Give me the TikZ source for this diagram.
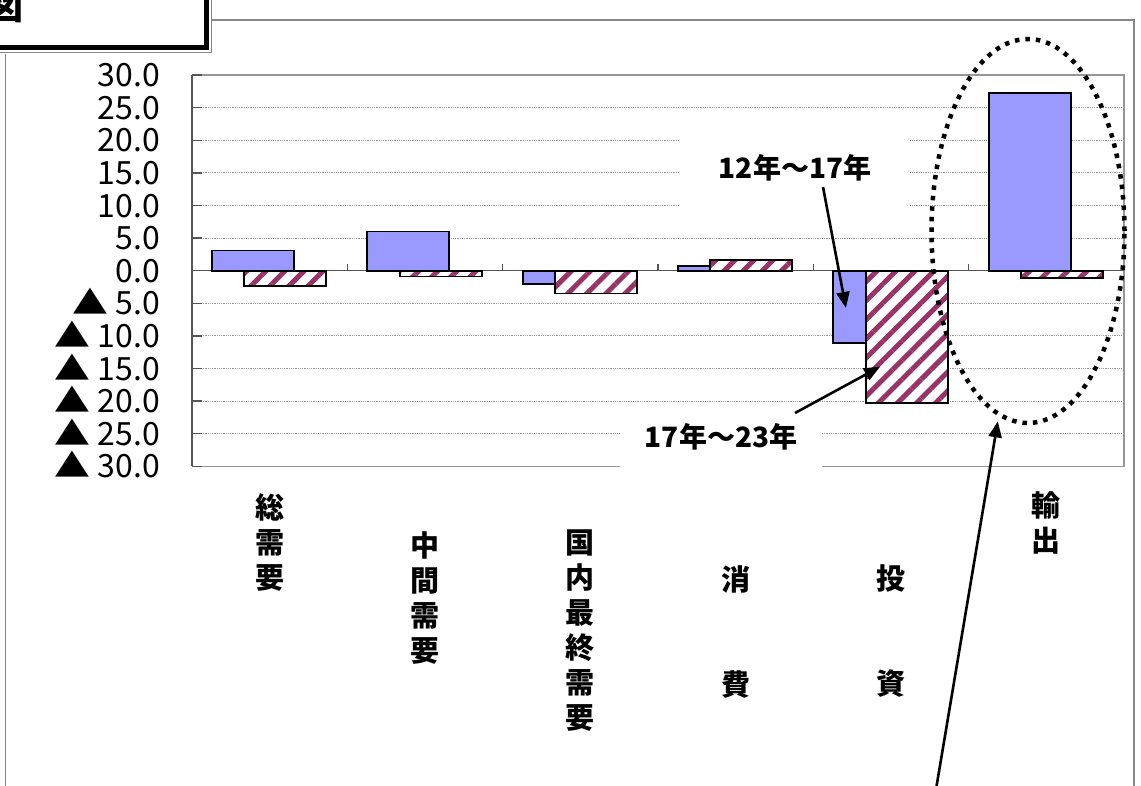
\documentclass[tikz,border=0pt]{standalone}
\usepackage{fontspec}
\usepackage{tikz}
\usetikzlibrary{positioning,calc,shapes.geometric,arrows.meta,patterns.meta}
\newfontfamily\jp{Noto Sans CJK JP}

\definecolor{barblue}{RGB}{153,153,255}
\definecolor{barplum}{RGB}{153,51,102}
\definecolor{gridgray}{RGB}{150,150,150}
\definecolor{axisgray}{RGB}{85,85,85}
\definecolor{framegray}{RGB}{135,135,135}

\newcommand{\negmark}{\scalebox{1.12}[1.0]{▲}}

\tikzset{
  bluebar/.style={draw=black, line width=1.8pt, fill=barblue},
  hatchbar/.style={draw=black, line width=1.8pt, preaction={fill=white},
    pattern={Lines[angle=45,distance=13.5pt,line width=5pt]}, pattern color=barplum},
  gridline/.style={gridgray, line width=0.8pt, densely dotted},
  ylab/.style={font=\jp\fontsize{32}{32}\selectfont, anchor=base east, inner sep=0pt, yshift=-11.7pt},
  catlab/.style={font=\jp\bfseries\fontsize{29}{35}\selectfont, align=center, anchor=north, inner sep=0pt},
  yearlab/.style={font=\jp\bfseries\fontsize{28}{28}\selectfont, inner sep=0pt, fill=white},
  callout/.style={line width=2.6pt, -{Triangle[length=16pt,width=13pt]}},
  focusring/.style={ellipse, draw, line width=4.5pt, dash pattern=on 4.5pt off 6pt,
    minimum width=193pt, minimum height=384pt, inner sep=0pt},
}

\begin{document}
\begin{tikzpicture}[x=1pt,y=1pt]
    \useasboundingbox (0,0) rectangle (1141,785);
    \fill[white] (0,0) rectangle (1141,785);
    \clip (0,0) rectangle (1141,785);

    % frame and title box
    \draw[framegray, line width=1.5pt] (5.7,731) -- (5.7,-5);
    \draw[framegray, line width=1.5pt] (212,765) -- (1134,765) -- (1134,-5);
    \draw[line width=5.5pt] (-20,737.5) -- (206.7,737.5) -- (206.7,800);
    \draw[framegray, line width=1pt] (-20,732.3) -- (211.5,732.3) -- (211.5,800);
    \node[font=\jp\bfseries\fontsize{36}{36}\selectfont, anchor=south east, inner sep=0pt] (title) at (24,762) {図};

    % chart
    \begin{scope}[shift={(192,514.3)}, x=155.33pt, y=6.52pt]
        \foreach \v in {-25,-20,...,25}
            \draw[gridline] (0,\v) -- (6,\v);
        \draw[gridgray, line width=1.5pt] (0,30) -- (6,30) -- (6,-30) -- (0,-30);
        \draw[axisgray, line width=1.5pt] (0,-30) -- (0,30);
        \foreach \v in {-30,-25,...,30}
            \draw[axisgray, line width=1.5pt] (0,\v) -- ++(10pt,0);
        \foreach \v/\t in {30/30.0,25/25.0,20/20.0,15/15.0,10/10.0,5/5.0,0/0.0}
            \node[ylab] (val\v) at (-32pt,\v) {\t};
        \foreach \v/\t in {-5/5.0,-10/10.0,-15/15.0,-20/20.0,-25/25.0,-30/30.0}
            \node[ylab] (val\v) at (-32pt,\v) {\negmark\ \t};
        \draw[axisgray, line width=1.5pt] (0,0) -- (6,0);
        \foreach \i in {1,...,5}
            \draw[axisgray, line width=1.2pt] (\i,0) -- ++(0,7pt);
        % 12-17 / 17-23
        \foreach \i/\a/\b in {0/3.1/-2.3, 1/6.0/-0.9, 2/-2.0/-3.5, 3/0.7/1.6, 4/-11.1/-20.3, 5/27.2/-1.1} {
            \draw[bluebar] (\i+0.129,0) rectangle (\i+0.657,\a);
            \draw[hatchbar] (\i+0.337,0) rectangle (\i+0.865,\b);
        }
        \coordinate (tipearly) at (4.21,-5.72);
        \coordinate (tiplate) at (4.43,-14.72);
    \end{scope}

    % category labels
    \node[catlab] (total) at (269.7,292) {総\\需\\要};
    \node[catlab] (inter) at (425,253.3) {中\\間\\需\\要};
    \node[catlab] (domestic) at (580.3,255) {国\\内\\最\\終\\需\\要};
    \node[catlab] (consume) at (735.7,220) {消\\[70pt]費};
    \node[catlab] (invest) at (891,220) {投\\[70pt]資};
    \node[catlab] (export) at (1046.3,293.3) {輸\\出};

    % callouts
    \node[yearlab, minimum width=230pt, minimum height=80pt] (early) at (795,617) {12年～17年};
    \node[yearlab, minimum width=202pt, minimum height=60pt] (late) at (721,348) {17年～23年};
    \draw[callout] ([xshift=28pt,yshift=-19pt]early.center) -- (tipearly);
    \draw[callout] ([xshift=74pt,yshift=24pt]late.center) -- (tiplate);

    \node[focusring] (exports) at (1028,554) {};
    \coordinate (lowstart) at (935.9,-5);
    \draw[callout, shorten >=5pt] (lowstart) -- (exports.-99);
\end{tikzpicture}
\end{document}
